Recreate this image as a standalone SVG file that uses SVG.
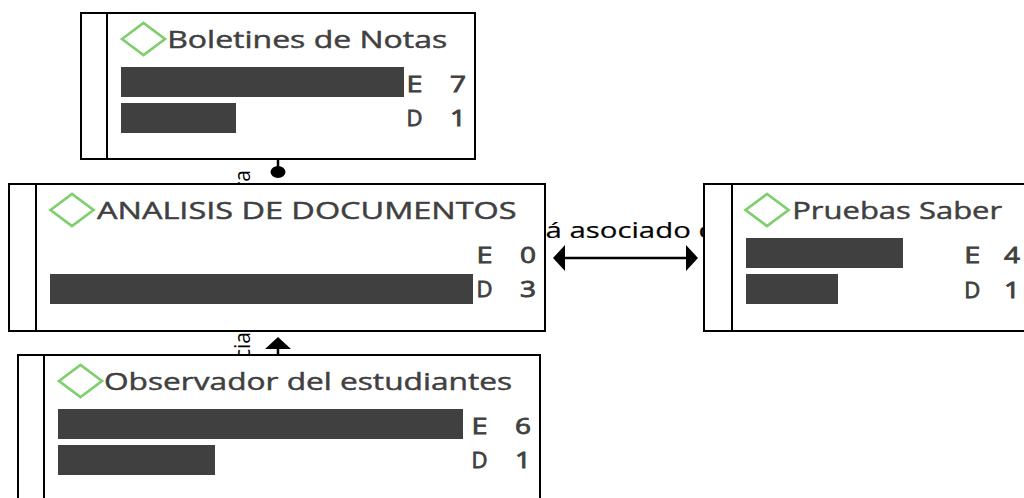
<svg xmlns="http://www.w3.org/2000/svg" width="1024" height="498" viewBox="0 0 1024 498">
<style>
.box{fill:#fff;stroke:#000;stroke-width:2}
.sep{stroke:#000;stroke-width:2}
.dia{fill:none;stroke:#7fcf6e;stroke-width:2.7}
.title{font-family:"Open Sans","Noto Sans","DejaVu Sans",sans-serif;font-size:24px;fill:#404040;stroke:#404040;stroke-width:0.45}
.cnt{font-family:"Open Sans","Noto Sans","DejaVu Sans",sans-serif;font-size:22px;fill:#404040;stroke:#404040;stroke-width:0.8}
.bar{fill:#404040}
.lbl{font-family:"Open Sans","Noto Sans","DejaVu Sans",sans-serif;font-size:21px;fill:#000}
.hlbl{font-family:"Open Sans","Noto Sans","DejaVu Sans",sans-serif;font-size:22px;fill:#000;stroke:#000;stroke-width:0.2}
.conn{stroke:#000;stroke-width:2.5;fill:none}
</style>
<defs>
<marker id="arr" viewBox="0 0 12 26" refX="9" refY="13" markerWidth="12" markerHeight="26" markerUnits="userSpaceOnUse" orient="auto-start-reverse">
<path d="M0,0 L12,13 L0,26 Z" fill="#000"/>
</marker>
</defs>
<g id="connectors">
<line class="conn" x1="278" y1="159" x2="278" y2="167"/>
<ellipse cx="278" cy="172" rx="7.5" ry="6" fill="#000"/>
<text class="lbl" transform="translate(250,170) rotate(-90)" text-anchor="end">ra</text>
<path class="conn" d="M556,258 L695,258" marker-start="url(#arr)" marker-end="url(#arr)"/>
<text class="hlbl" x="545.5" y="238" textLength="167" lengthAdjust="spacingAndGlyphs">á asociado c</text>
<path class="conn" d="M278,355 L278,340" marker-end="url(#arr)"/>
<text class="lbl" transform="translate(250,332) rotate(-90)" text-anchor="end">cia</text>
</g>
<g id="boletines">
<rect class="box" x="81" y="13" width="394" height="146"/>
<line class="sep" x1="107" y1="13" x2="107" y2="159"/>
<path class="dia" d="M122,39 L143.5,23 L165,39 L143.5,55 Z"/>
<text class="title" x="167.2" y="48" textLength="280" lengthAdjust="spacingAndGlyphs">Boletines de Notas</text>
<rect class="bar" x="121" y="67" width="283" height="30"/>
<rect class="bar" x="121" y="103" width="115" height="30"/>
<text class="cnt" x="406.5" y="92" textLength="16" lengthAdjust="spacingAndGlyphs">E</text>
<text class="cnt" x="450" y="92" textLength="16" lengthAdjust="spacingAndGlyphs">7</text>
<text class="cnt" x="406.5" y="126" textLength="16" lengthAdjust="spacingAndGlyphs">D</text>
<text class="cnt" x="450" y="126" textLength="16" lengthAdjust="spacingAndGlyphs">1</text>
</g>
<g id="analisis">
<rect class="box" x="9" y="184" width="536" height="147"/>
<line class="sep" x1="36" y1="184" x2="36" y2="331"/>
<path class="dia" d="M50.5,210 L72,194 L93.5,210 L72,226 Z"/>
<text class="title" x="97" y="219" textLength="419.6" lengthAdjust="spacingAndGlyphs">ANALISIS DE DOCUMENTOS</text>
<rect class="bar" x="50" y="274" width="423" height="30"/>
<text class="cnt" x="476.5" y="263" textLength="16" lengthAdjust="spacingAndGlyphs">E</text>
<text class="cnt" x="520" y="263" textLength="16" lengthAdjust="spacingAndGlyphs">0</text>
<text class="cnt" x="476.5" y="297" textLength="16" lengthAdjust="spacingAndGlyphs">D</text>
<text class="cnt" x="520" y="297" textLength="16" lengthAdjust="spacingAndGlyphs">3</text>
</g>
<g id="pruebas">
<rect class="box" x="704" y="184" width="330" height="147"/>
<line class="sep" x1="732" y1="184" x2="732" y2="331"/>
<path class="dia" d="M745.5,210 L767,194 L788.5,210 L767,226 Z"/>
<text class="title" x="792.2" y="219" textLength="210" lengthAdjust="spacingAndGlyphs">Pruebas Saber</text>
<rect class="bar" x="746" y="238" width="157" height="30"/>
<rect class="bar" x="746" y="274" width="92" height="30"/>
<text class="cnt" x="964.3" y="263" textLength="16" lengthAdjust="spacingAndGlyphs">E</text>
<text class="cnt" x="1004" y="263" textLength="16" lengthAdjust="spacingAndGlyphs">4</text>
<text class="cnt" x="964.3" y="298" textLength="16" lengthAdjust="spacingAndGlyphs">D</text>
<text class="cnt" x="1004" y="298" textLength="16" lengthAdjust="spacingAndGlyphs">1</text>
</g>
<g id="observador">
<rect class="box" x="18" y="355" width="522" height="160"/>
<line class="sep" x1="44" y1="355" x2="44" y2="515"/>
<path class="dia" d="M59,381 L80.5,365 L102,381 L80.5,397 Z"/>
<text class="title" x="104" y="390" textLength="408" lengthAdjust="spacingAndGlyphs">Observador del estudiantes</text>
<rect class="bar" x="58" y="409" width="405" height="30"/>
<rect class="bar" x="58" y="445" width="157" height="30"/>
<text class="cnt" x="471.5" y="434" textLength="16" lengthAdjust="spacingAndGlyphs">E</text>
<text class="cnt" x="515" y="434" textLength="16" lengthAdjust="spacingAndGlyphs">6</text>
<text class="cnt" x="471.5" y="468" textLength="16" lengthAdjust="spacingAndGlyphs">D</text>
<text class="cnt" x="515" y="468" textLength="16" lengthAdjust="spacingAndGlyphs">1</text>
</g>
</svg>
